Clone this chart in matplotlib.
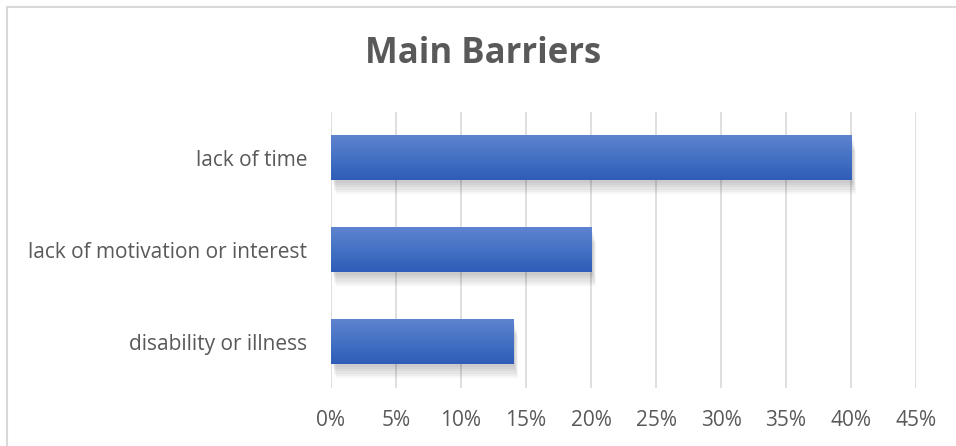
import matplotlib.pyplot as plt
import numpy as np
from matplotlib.colors import LinearSegmentedColormap
from matplotlib.patches import Rectangle

categories = ['disability or illness', 'lack of motivation or interest', 'lack of time']
values = [14, 20, 40]
ticks = [0, 5, 10, 15, 20, 25, 30, 35, 40, 45]
tick_labels = ['0%', '5%', '10%', '15%', '20%', '25%', '30%', '35%', '40%', '45%']

plt.rcParams['font.family'] = ['Open Sans', 'DejaVu Sans']
grey = '#595959'

fig = plt.figure(figsize=(9.56, 4.46), dpi=100)
ax = fig.add_axes([0.3462, 0.130, 0.612, 0.619])

# chart frame (left and top edges visible)
fig.add_artist(plt.Line2D([7 / 956, 7 / 956], [0, 1 - 7 / 446], color='#d9d9d9', lw=1.5,
                          transform=fig.transFigure))
fig.add_artist(plt.Line2D([7 / 956, 1], [1 - 7 / 446, 1 - 7 / 446], color='#d9d9d9', lw=1.5,
                          transform=fig.transFigure))

cmap = LinearSegmentedColormap.from_list('bar', ['#2e5cb8', '#4472c4', '#5f83cf'])
grad = np.linspace(0, 1, 64).reshape(-1, 1)
h = 0.48
y = np.arange(len(categories))
for yi, v in zip(y, values):
    # soft shadow
    for k in range(6):
        d = 0.03 + 0.025 * k
        ax.add_patch(Rectangle((0.15 + 0.04 * k, yi - h / 2 - d), v, h, color='black',
                               alpha=0.035, lw=0, zorder=2))
    ax.imshow(grad, cmap=cmap, aspect='auto', origin='lower',
              extent=(0, v, yi - h / 2, yi + h / 2), zorder=3)

ax.set_xlim(0, 45)
ax.set_ylim(-0.5, len(categories) - 0.5)
ax.set_xticks(ticks)
ax.set_xticklabels(tick_labels, fontsize=15, color=grey)
ax.set_yticks(y)
ax.set_yticklabels(categories, fontsize=15, color=grey)
ax.tick_params(axis='both', length=0)
ax.tick_params(axis='y', pad=17)
ax.tick_params(axis='x', pad=16)
ax.grid(axis='x', color='#d9d9d9', lw=1.2, zorder=0)
ax.set_axisbelow(True)
for s in ax.spines.values():
    s.set_visible(False)

fig.text(483 / 956, 1 - 54 / 446, 'Main Barriers', ha='center', va='center',
         fontsize=25, fontweight='bold', color=grey)

fig.savefig('out.png', dpi=100)
